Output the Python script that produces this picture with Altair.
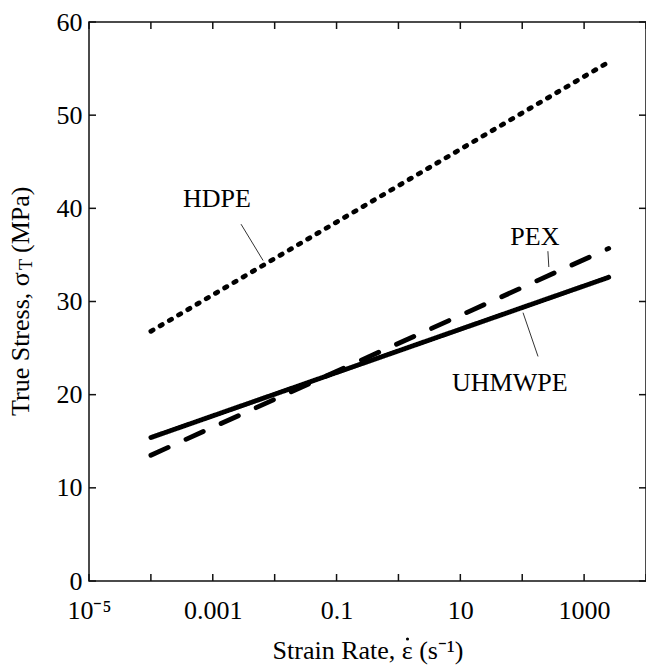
import math
import altair as alt
import pandas as pd

# ---- data ----
materials = ["HDPE", "PEX", "UHMWPE"]
rate_start = [1e-4, 1e-4, 1e-4]
rate_end = [2500, 2500, 2500]
stress_start = [26.8, 13.5, 15.4]
stress_end = [55.7, 35.7, 32.6]

x_tick_values = [1e-5, 1e-4, 1e-3, 1e-2, 1e-1, 1, 10, 100, 1000, 1e4]
x_label_values = [1e-5, 1e-3, 1e-1, 10, 1000]
x_label_texts = ["10⁻⁵", "0.001", "0.1", "10", "1000"]
y_tick_values = [0, 10, 20, 30, 40, 50, 60]

label_texts = ["HDPE", "PEX", "UHMWPE"]
label_x = [1.17e-3, 160, 63]
label_y = [41.0, 36.9, 21.3]

leader_x1 = [2.86e-3, 260, 103]
leader_y1 = [38.3, 35.4, 28.8]
leader_x2 = [6.5e-3, 269, 180]
leader_y2 = [34.4, 33.7, 24.1]

FONT = "Liberation Serif"
W, H = 557, 559

rows = []
for m, xs, xe, ys, ye in zip(materials, rate_start, rate_end, stress_start, stress_end):
    rows.append({"material": m, "rate": xs, "stress": ys, "order": 0})
    rows.append({"material": m, "rate": xe, "stress": ye, "order": 1})
lines_df = pd.DataFrame(rows)

xscale = alt.Scale(type="log", domain=[1e-5, 1e4], nice=False)
yscale = alt.Scale(domain=[0, 60], nice=False)

expr = "''"
for v, t in reversed(list(zip(x_label_values, x_label_texts))):
    expr = f"(abs(log(datum.value)/LN10 - ({math.log10(v)})) < 0.01) ? '{t}' : " + expr

x_axis = alt.Axis(values=x_label_values, labelExpr=expr, grid=False, ticks=False, domain=False,
                  labelFont=FONT, labelFontSize=26, labelColor="black", labelPadding=16,
                  labelBaseline="top", labelFlush=False,
                  title="Strain Rate, ε (s⁻¹)", titleFont=FONT, titleFontSize=26,
                  titleFontWeight="normal", titleColor="black", titlePadding=14)
y_axis = alt.Axis(values=y_tick_values, grid=False, ticks=False, domain=False,
                  labelFont=FONT, labelFontSize=26, labelColor="black", labelPadding=7,
                  labelFlush=False, title=None)

def X(field):
    return alt.X(field, type="quantitative", scale=xscale, axis=x_axis)

def Y(field):
    return alt.Y(field, type="quantitative", scale=yscale, axis=y_axis)

lines = alt.Chart(lines_df).mark_line(color="black", strokeWidth=4.8, strokeCap="round").encode(
    x=X("rate"),
    y=Y("stress"),
    detail="material:N",
    order="order:Q",
    strokeDash=alt.StrokeDash("material:N", scale=alt.Scale(domain=materials,
                              range=[[2.5, 8.2], [19, 19.5], [1, 0]]), legend=None),
)

lab_df = pd.DataFrame({"text": label_texts, "x": label_x, "y": label_y})
labels = alt.Chart(lab_df).mark_text(font=FONT, fontSize=26, color="black", baseline="middle",
                                      align="center").encode(x=X("x"), y=Y("y"), text="text:N")

lead_df = pd.DataFrame({"x": leader_x1, "y": leader_y1, "x2": leader_x2, "y2": leader_y2})
leaders = alt.Chart(lead_df).mark_rule(color="#333", strokeWidth=1).encode(
    x=X("x"), y=Y("y"), x2="x2:Q", y2="y2:Q")

xt_df = pd.DataFrame({"v": x_tick_values})
yt_df = pd.DataFrame({"v": y_tick_values})
tk = dict(color="#111", strokeWidth=1.5)
xt_bot = alt.Chart(xt_df).mark_rule(**tk).encode(x=X("v"), y=alt.value(H), y2=alt.value(H - 7))
xt_top = alt.Chart(xt_df).mark_rule(**tk).encode(x=X("v"), y=alt.value(0), y2=alt.value(7))
yt_left = alt.Chart(yt_df).mark_rule(**tk).encode(y=Y("v"), x=alt.value(0), x2=alt.value(7))
yt_right = alt.Chart(yt_df).mark_rule(**tk).encode(y=Y("v"), x=alt.value(W), x2=alt.value(W - 7))

one = pd.DataFrame({"a": [0]})
def ytitle(txt, ypos, size, xpos):
    return alt.Chart(one).mark_text(text=txt, font=FONT, fontSize=size, color="black", angle=270,
                                    align="left", baseline="middle").encode(
        x=alt.value(xpos), y=alt.value(ypos))

yt1 = ytitle("True Stress, σ", 394, 26, -68)
yt2 = ytitle("T", 248, 18, -62)
yt3 = ytitle("(MPa)", 231, 26, -68)

# dot over epsilon in the x-axis title
eps_dot = alt.Chart(one).mark_circle(color="black", opacity=1, size=10).encode(
    x=alt.value(318.5), y=alt.value(617))

chart = alt.layer(lines, labels, leaders, xt_bot, xt_top, yt_left, yt_right,
                  yt1, yt2, yt3, eps_dot).properties(
    width=W, height=H,
    autosize=alt.AutoSizeParams(type="none"),
    padding={"left": 89, "top": 22, "right": 0, "bottom": 91},
).configure(background="white").configure_view(stroke="#111", strokeWidth=1.5)

chart.save("out.html", embed_options={"renderer": "svg", "actions": False})
